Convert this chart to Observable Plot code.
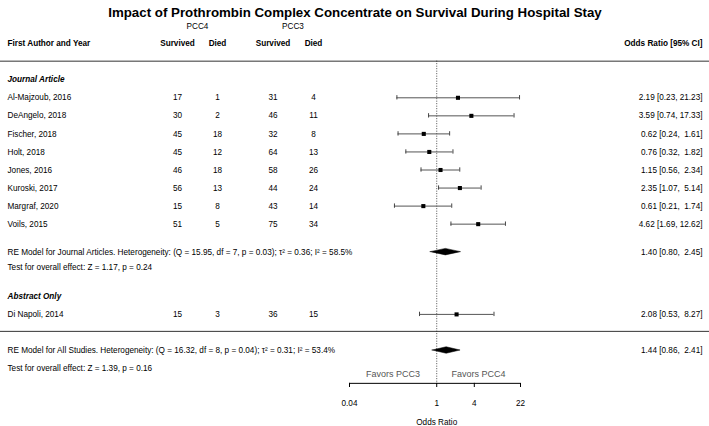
<!DOCTYPE html>
<html>
<head>
<meta charset="utf-8">
<script src="https://cdn.jsdelivr.net/npm/d3@7"></script>
<script src="https://cdn.jsdelivr.net/npm/@observablehq/plot@0.6"></script>
<style>
  html, body { margin: 0; padding: 0; background: #fff; }
  svg text { white-space: pre; }
</style>
</head>
<body>
<div id="chart"></div>
<script>
// ---- data ----
const title = "Impact of Prothrombin Complex Concentrate on Survival During Hospital Stay";
const authors = ["Al-Majzoub, 2016", "DeAngelo, 2018", "Fischer, 2018", "Holt, 2018", "Jones, 2016", "Kuroski, 2017", "Margraf, 2020", "Voils, 2015", "Di Napoli, 2014"];
const groups = ["Journal Article", "Journal Article", "Journal Article", "Journal Article", "Journal Article", "Journal Article", "Journal Article", "Journal Article", "Abstract Only"];
const pcc4Survived = [17, 30, 45, 45, 46, 56, 15, 51, 15];
const pcc4Died = [1, 2, 18, 12, 18, 13, 8, 5, 3];
const pcc3Survived = [31, 46, 32, 64, 58, 44, 43, 75, 36];
const pcc3Died = [4, 11, 8, 13, 26, 24, 14, 34, 15];
const oddsRatio = [2.19, 3.59, 0.62, 0.76, 1.15, 2.35, 0.61, 4.62, 2.08];
const ciLow = [0.23, 0.74, 0.24, 0.32, 0.56, 1.07, 0.21, 1.69, 0.53];
const ciHigh = [21.23, 17.33, 1.61, 1.82, 2.34, 5.14, 1.74, 12.62, 8.27];

const summaryLabels = [
  "RE Model for Journal Articles. Heterogeneity: (Q = 15.95, df = 7, p = 0.03); \u03c4\u00b2 = 0.36; I\u00b2 = 58.5%",
  "RE Model for All Studies. Heterogeneity: (Q = 16.32, df = 8, p = 0.04); \u03c4\u00b2 = 0.31; I\u00b2 = 53.4%"
];
const summaryTests = ["Test for overall effect: Z = 1.17, p = 0.24", "Test for overall effect: Z = 1.39, p = 0.16"];
const summaryOR = [1.40, 1.44];
const summaryLow = [0.80, 0.86];
const summaryHigh = [2.45, 2.41];

const tickValues = [0.04, 1, 4, 22];
const favorLabels = ["Favors PCC3", "Favors PCC4"];
const armLabels = ["PCC4", "PCC3"];
const colHeaders = ["Survived", "Died", "Survived", "Died"];

// ---- layout (row units) ----
const groupNames = ["Journal Article", "Abstract Only"];
const groupHeaderRow = {"Journal Article": -1, "Abstract Only": 11};
const studyRows = [];
{
  let r = 0;
  authors.forEach((a, i) => {
    if (i > 0 && groups[i] !== groups[i - 1]) r = 12;
    studyRows.push(r);
    r++;
  });
}
const summaryRows = [8.55, 14];
const testRows = [9.42, 14.98];
const headerLineRow = -2.03, sepLineRow = 12.94;
const axisRow = 15.82, tickLabelRow = 16.92, axisTitleRow = 17.98, favorRow = 15.29;

const fmt = v => v.toFixed(2);
const ciText = (e, l, h) => `${fmt(e)} [${fmt(l)}, ${fmt(h).padStart(5, " ")}]`;

const studies = authors.map((a, i) => ({
  author: a, row: studyRows[i],
  s4: pcc4Survived[i], d4: pcc4Died[i], s3: pcc3Survived[i], d3: pcc3Died[i],
  or: oddsRatio[i], lo: ciLow[i], hi: ciHigh[i],
  label: ciText(oddsRatio[i], ciLow[i], ciHigh[i])
}));
const summaries = summaryLabels.map((l, i) => ({
  label: l, test: summaryTests[i], row: summaryRows[i], testRow: testRows[i],
  or: summaryOR[i], lo: summaryLow[i], hi: summaryHigh[i],
  ci: ciText(summaryOR[i], summaryLow[i], summaryHigh[i])
}));
const diamondH = 0.18;
const diamonds = summaries.flatMap((s, i) => [
  {id: i, x: s.lo, y1: s.row, y2: s.row},
  {id: i, x: s.or, y1: s.row - diamondH, y2: s.row + diamondH},
  {id: i, x: s.hi, y1: s.row, y2: s.row}
]);
const caps = studies.flatMap(s => [{x: s.lo, row: s.row}, {x: s.hi, row: s.row}]);
const tMin = tickValues[0], tMax = tickValues[tickValues.length - 1];
const favors = [
  {label: favorLabels[0], x: Math.sqrt(tMin * 1)},
  {label: favorLabels[1], x: Math.sqrt(1 * tMax)}
];

const font = "'Liberation Sans', Arial, sans-serif";
const capH = 0.12;
const fs = 8.2;
const colX = {author: 7, s4: 177, d4: 217, s3: 272.5, d3: 313};
const armX = [197, 292.5];
const headX = [colX.s4, colX.d4, colX.s3, colX.d3];

const marks = [
  // title
  Plot.text([title], {y: () => -4.72, frameAnchor: "middle", text: d => d, fontSize: 13.3, fontWeight: "bold"}),
  // horizontal lines
  Plot.ruleY([headerLineRow, sepLineRow], {y: d => d, stroke: "#333", strokeWidth: 1}),
  // reference line
  Plot.ruleX([1], {x: d => d, y1: headerLineRow, y2: axisRow, stroke: "#222", strokeDasharray: "1,1.5", strokeWidth: 0.8}),
  // CI lines
  Plot.ruleY(studies, {y: "row", x1: "lo", x2: "hi", stroke: "#555", strokeWidth: 1}),
  Plot.ruleX(caps, {x: "x", y1: d => d.row - capH, y2: d => d.row + capH, stroke: "#444", strokeWidth: 1}),
  Plot.dot(studies, {x: "or", y: "row", symbol: "square", r: 2.3, fill: "#000", stroke: null}),
  // diamonds
  Plot.areaY(diamonds, {x: "x", y1: "y1", y2: "y2", z: "id", fill: "#000", stroke: "#000", strokeWidth: 0.5, curve: "linear"}),
  // axis
  Plot.ruleY([axisRow], {y: d => d, x1: tMin, x2: tMax, stroke: "#000", strokeWidth: 1}),
  Plot.ruleX(tickValues, {x: d => d, y1: axisRow, y2: axisRow + 0.23, stroke: "#000", strokeWidth: 1}),
  Plot.text(tickValues, {x: d => d, y: () => tickLabelRow, text: d => String(d), fontSize: fs}),
  Plot.text(["Odds Ratio"], {x: () => 1, y: () => axisTitleRow, text: d => d, fontSize: fs}),
  Plot.text(favors, {x: "x", y: () => favorRow, text: "label", fill: "#555", fontSize: 9}),
  // headers
  ...armLabels.map((a, i) => Plot.text([a], {y: () => -3.95, frameAnchor: "left", dx: armX[i], text: d => d, textAnchor: "middle", fontSize: fs})),
  Plot.text(["First Author and Year"], {y: () => -3, frameAnchor: "left", dx: colX.author, text: d => d, textAnchor: "start", fontWeight: "bold", fontSize: fs}),
  ...colHeaders.map((h, i) => Plot.text([h], {y: () => -3, frameAnchor: "left", dx: headX[i], text: d => d, textAnchor: "middle", fontWeight: "bold", fontSize: fs})),
  Plot.text(["Odds Ratio [95% CI]"], {y: () => -3, frameAnchor: "right", dx: -7, text: d => d, textAnchor: "end", fontWeight: "bold", fontSize: fs}),
  Plot.text(groupNames, {y: d => groupHeaderRow[d], frameAnchor: "left", dx: colX.author, text: d => d, textAnchor: "start", fontWeight: "bold", fontStyle: "italic", fontSize: fs}),
  // study rows
  Plot.text(studies, {y: "row", frameAnchor: "left", dx: colX.author, text: "author", textAnchor: "start", fontSize: fs}),
  Plot.text(studies, {y: "row", frameAnchor: "left", dx: colX.s4, text: d => String(d.s4), textAnchor: "middle", fontSize: fs}),
  Plot.text(studies, {y: "row", frameAnchor: "left", dx: colX.d4, text: d => String(d.d4), textAnchor: "middle", fontSize: fs}),
  Plot.text(studies, {y: "row", frameAnchor: "left", dx: colX.s3, text: d => String(d.s3), textAnchor: "middle", fontSize: fs}),
  Plot.text(studies, {y: "row", frameAnchor: "left", dx: colX.d3, text: d => String(d.d3), textAnchor: "middle", fontSize: fs}),
  Plot.text(studies, {y: "row", frameAnchor: "right", dx: -7, text: "label", textAnchor: "end", fontSize: fs}),
  // summaries
  Plot.text(summaries, {y: "row", frameAnchor: "left", dx: colX.author, text: "label", textAnchor: "start", fontSize: fs}),
  Plot.text(summaries, {y: "testRow", frameAnchor: "left", dx: colX.author, text: "test", textAnchor: "start", fontSize: fs}),
  Plot.text(summaries, {y: "row", frameAnchor: "right", dx: -7, text: "ci", textAnchor: "end", fontSize: fs})
];

const chart = Plot.plot({
  width: 709,
  height: 426,
  margin: 0,
  style: {fontFamily: font, fontSize: "8px", background: "#fff", color: "#000"},
  x: {type: "log", domain: [tMin, tMax], range: [349, 520], axis: null},
  y: {type: "linear", domain: [0, 14], range: [97.3, 97.3 + 14 * 18.05], axis: null},
  marks
});
document.getElementById("chart").appendChild(chart);
</script>
</body>
</html>
